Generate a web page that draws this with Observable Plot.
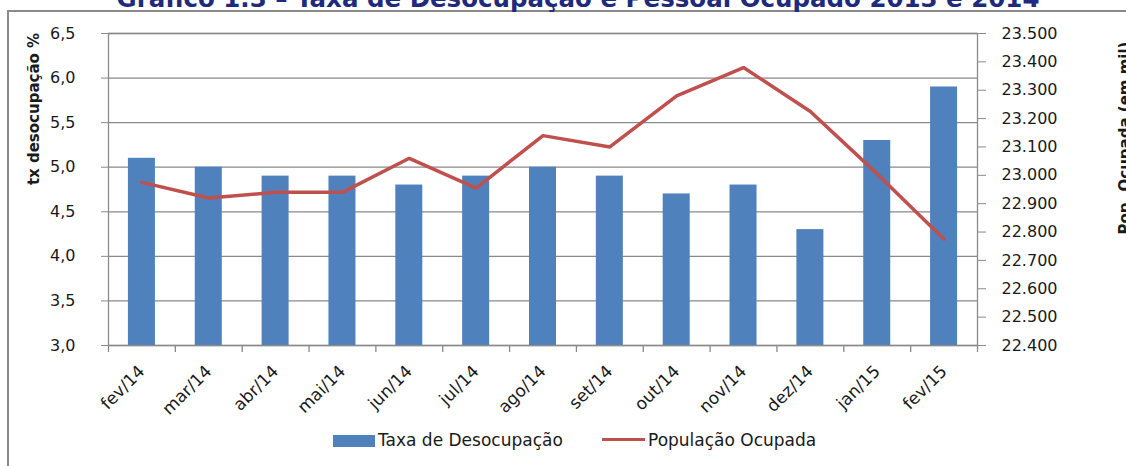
<!DOCTYPE html>
<html>
<head>
<meta charset="utf-8">
<script src="https://cdn.jsdelivr.net/npm/d3@7"></script>
<script src="https://cdn.jsdelivr.net/npm/@observablehq/plot@0.6"></script>
<style>
  body { margin: 0; background: #fff; }
  #wrap { position: relative; width: 1126px; height: 466px; overflow: hidden; background: #fff; font-family: "DejaVu Sans", sans-serif; color: #1a1a1a; }
  #frame { position: absolute; left: 7px; top: 10px; width: 1140px; height: 480px; border: 2px solid #8a8a8a; box-sizing: border-box; }
  #title { position: absolute; left: 0; width: 1156px; top: -13px; text-align: center; font-weight: bold; font-size: 24.5px; line-height: 24px; color: #1f2a7c; white-space: nowrap; }
  #chart { position: absolute; left: 0; top: 0; }
  .ylab { position: absolute; font-weight: bold; font-size: 15px; white-space: nowrap; transform: translate(-50%, -50%) rotate(-90deg); }
  .leg { position: absolute; font-size: 17px; line-height: 17px; white-space: nowrap; }
  .sw { position: absolute; }
</style>
</head>
<body>
<div id="wrap">
  <div id="frame"></div>
  <div id="title">Gráfico 1.3 – Taxa de Desocupação e Pessoal Ocupado 2013 e 2014</div>
  <div id="chart"></div>
  <div class="ylab" style="left:34px; top:109px;">tx desocupação %</div>
  <div class="ylab" style="left:1125px; top:138px;">Pop. Ocupada (em mil)</div>
  <div class="sw" style="left:333px; top:435px; width:42px; height:12px; background:#4F81BD;"></div>
  <div class="leg" style="left:378px; top:432px;">Taxa de Desocupação</div>
  <div class="sw" style="left:602px; top:438px; width:43px; height:3px; background:#C0504D;"></div>
  <div class="leg" style="left:648px; top:432px;">População Ocupada</div>
</div>
<script>
const months = ["fev/14","mar/14","abr/14","mai/14","jun/14","jul/14","ago/14","set/14","out/14","nov/14","dez/14","jan/15","fev/15"];
const taxaDesocupacao = [5.1, 5.0, 4.9, 4.9, 4.8, 4.9, 5.0, 4.9, 4.7, 4.8, 4.3, 5.3, 5.9];
const populacaoOcupada = [22975, 22920, 22940, 22940, 23060, 22955, 23140, 23100, 23280, 23380, 23225, 23005, 22775];
const leftTicks = [3.0, 3.5, 4.0, 4.5, 5.0, 5.5, 6.0, 6.5];
const rightTicks = [22400, 22500, 22600, 22700, 22800, 22900, 23000, 23100, 23200, 23300, 23400, 23500];

const leftDomain = [3.0, 6.5];
const rightDomain = [22400, 23500];
const toLeft = v => leftDomain[0] + (v - rightDomain[0]) / (rightDomain[1] - rightDomain[0]) * (leftDomain[1] - leftDomain[0]);
const fromLeft = v => rightDomain[0] + (v - leftDomain[0]) / (leftDomain[1] - leftDomain[0]) * (rightDomain[1] - rightDomain[0]);

const data = months.map((m, i) => ({month: m, taxa: taxaDesocupacao[i], pop: populacaoOcupada[i]}));

const W = 1126, H = 466, mL = 108, mR = 149, mT = 33, mB = 121;
const step = (W - mL - mR) / months.length;
const barW = 27;
const inset = (step - barW) / 2;
const tickLen = 7 * (leftDomain[1] - leftDomain[0]) / (H - mT - mB);
const gridColor = "#8a8a8a";

const fmtL = d => d.toFixed(1).replace(".", ",");
const fmtR = d => d3.format(",")(Math.round(fromLeft(d))).replace(/,/g, ".");

const chart = Plot.plot({
  width: W, height: H,
  marginLeft: mL, marginRight: mR, marginTop: mT, marginBottom: mB,
  style: {fontFamily: "DejaVu Sans, sans-serif", fontSize: "16px", color: "#1a1a1a", background: "transparent"},
  x: {type: "band", domain: months, padding: 0, round: false},
  y: {domain: leftDomain},
  marks: [
    Plot.gridY(leftTicks, {stroke: gridColor, strokeOpacity: 1, strokeWidth: 1.3}),
    Plot.barY(data, {x: "month", y1: leftDomain[0], y2: "taxa", fill: "#4F81BD", insetLeft: inset, insetRight: inset}),
    Plot.frame({stroke: gridColor, strokeWidth: 1.3}),
    Plot.lineY(data, {x: "month", y: d => toLeft(d.pop), stroke: "#C0504D", strokeWidth: 3.5, strokeLinejoin: "miter"}),
    Plot.axisY(leftTicks, {anchor: "left", tickFormat: fmtL, tickSize: 7, tickPadding: 26, stroke: gridColor, label: null}),
    Plot.axisY(rightTicks.map(toLeft), {anchor: "right", tickFormat: fmtR, tickSize: 8, tickPadding: 16, stroke: gridColor, label: null}),
    Plot.axisX({tickSize: 0, tickPadding: 0, tickRotate: -45, label: null, fontSize: 17, dx: 0, dy: 23}),
    Plot.ruleX(months, {x: d => d, dx: -step / 2, y1: leftDomain[0], y2: leftDomain[0] - tickLen, stroke: gridColor, strokeWidth: 1.3}),
    Plot.ruleX([months[months.length - 1]], {x: d => d, dx: step / 2, y1: leftDomain[0], y2: leftDomain[0] - tickLen, stroke: gridColor, strokeWidth: 1.3})
  ]
});
document.getElementById("chart").appendChild(chart);
</script>
</body>
</html>
